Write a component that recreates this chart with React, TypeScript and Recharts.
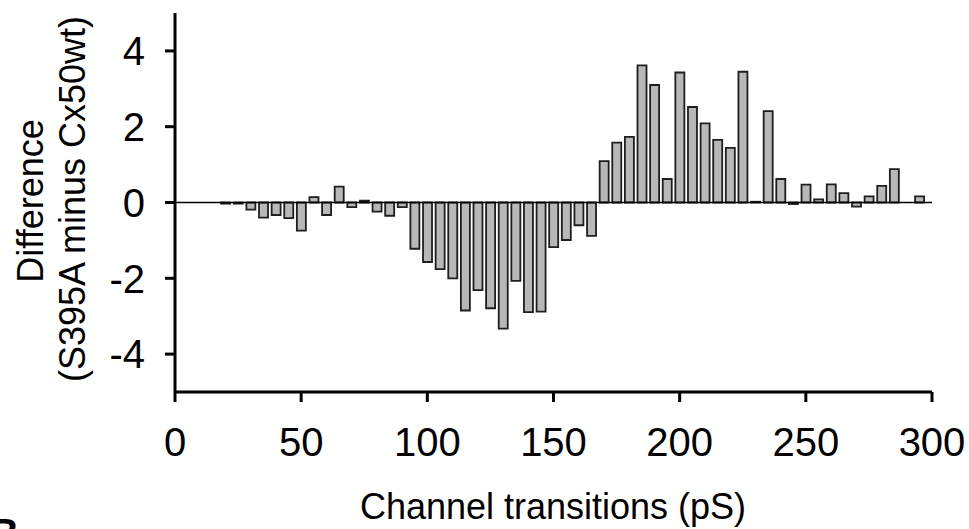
import React from 'react';
import { BarChart, Bar, XAxis, YAxis, ReferenceLine } from 'recharts';

// channel transition bins (pS)
const bins = [
  20, 25, 30, 35, 40, 45, 50, 55, 60, 65, 70, 75, 80, 85, 90, 95,
  100, 105, 110, 115, 120, 125, 130, 135, 140, 145, 150, 155, 160, 165,
  170, 175, 180, 185, 190, 195, 200, 205, 210, 215, 220, 225, 230, 235,
  240, 245, 250, 255, 260, 265, 270, 275, 280, 285, 290, 295,
];

// S395A minus Cx50wt
const diffs = [
  -0.03, -0.03, -0.19, -0.4, -0.33, -0.41, -0.74, 0.14, -0.33, 0.42, -0.12, 0.05, -0.24, -0.35, -0.12, -1.22,
  -1.57, -1.76, -2.0, -2.85, -2.31, -2.79, -3.33, -2.07, -2.89, -2.88, -1.18, -0.99, -0.6, -0.88,
  1.09, 1.58, 1.73, 3.62, 3.1, 0.62, 3.43, 2.52, 2.09, 1.65, 1.44, 3.45, 0.02, 2.41,
  0.62, -0.04, 0.47, 0.08, 0.48, 0.25, -0.11, 0.16, 0.44, 0.88, 0, 0.16,
];

const xTicks = [0, 50, 100, 150, 200, 250, 300];
const yTicks = [-4, -2, 0, 2, 4];

const data = bins.map((x, i) => ({ x, y: diffs[i] }));

const FONT = '"Liberation Sans", Arial, Helvetica, sans-serif';
const axisStroke = { stroke: '#000', strokeWidth: 3 };

export default function App() {
  return (
    <div style={{ position: 'absolute', left: 0, top: 0, width: 969, height: 529, background: '#fff', fontFamily: FONT }}>
      <BarChart
        width={969}
        height={529}
        data={data}
        margin={{ top: 13, right: 37, bottom: 0, left: 0 }}
      >
        <XAxis
          dataKey="x"
          type="number"
          domain={[0, 300]}
          ticks={xTicks}
          height={137}
          axisLine={axisStroke}
          tickLine={axisStroke}
          tickSize={10}
          tickMargin={26}
          tick={{ fill: '#000', fontSize: 40, fontFamily: FONT }}
          interval={0}
        />
        <YAxis
          type="number"
          domain={[-5, 5]}
          ticks={yTicks}
          width={175}
          axisLine={axisStroke}
          tickLine={axisStroke}
          tickSize={10}
          tickMargin={20}
          tick={{ fill: '#000', fontSize: 40, fontFamily: FONT }}
          interval={0}
        />
        <ReferenceLine y={0} stroke="#000" strokeWidth={1.5} />
        <Bar
          dataKey="y"
          barSize={9}
          fill="#b8b8b8"
          stroke="#1e1e1e"
          strokeWidth={1.8}
          isAnimationActive={false}
        />
        <text
          x={553}
          y={519}
          textAnchor="middle"
          fontSize={36}
          fontFamily={FONT}
          fill="#000"
        >
          Channel transitions (pS)
        </text>
        <text
          x={43}
          y={201}
          textAnchor="middle"
          fontSize={36}
          fontFamily={FONT}
          fill="#000"
          transform="rotate(-90, 43, 201)"
        >
          Difference
        </text>
        <text
          x={85}
          y={199}
          textAnchor="middle"
          fontSize={36}
          fontFamily={FONT}
          fill="#000"
          transform="rotate(-90, 85, 199)"
        >
          (S395A minus Cx50wt)
        </text>
        {/* panel letter, cut off at the bottom edge as in the source figure */}
        <text x={-10} y={547} fontSize={40} fontWeight="bold" fontFamily={FONT} fill="#000">
          B
        </text>
      </BarChart>
    </div>
  );
}
